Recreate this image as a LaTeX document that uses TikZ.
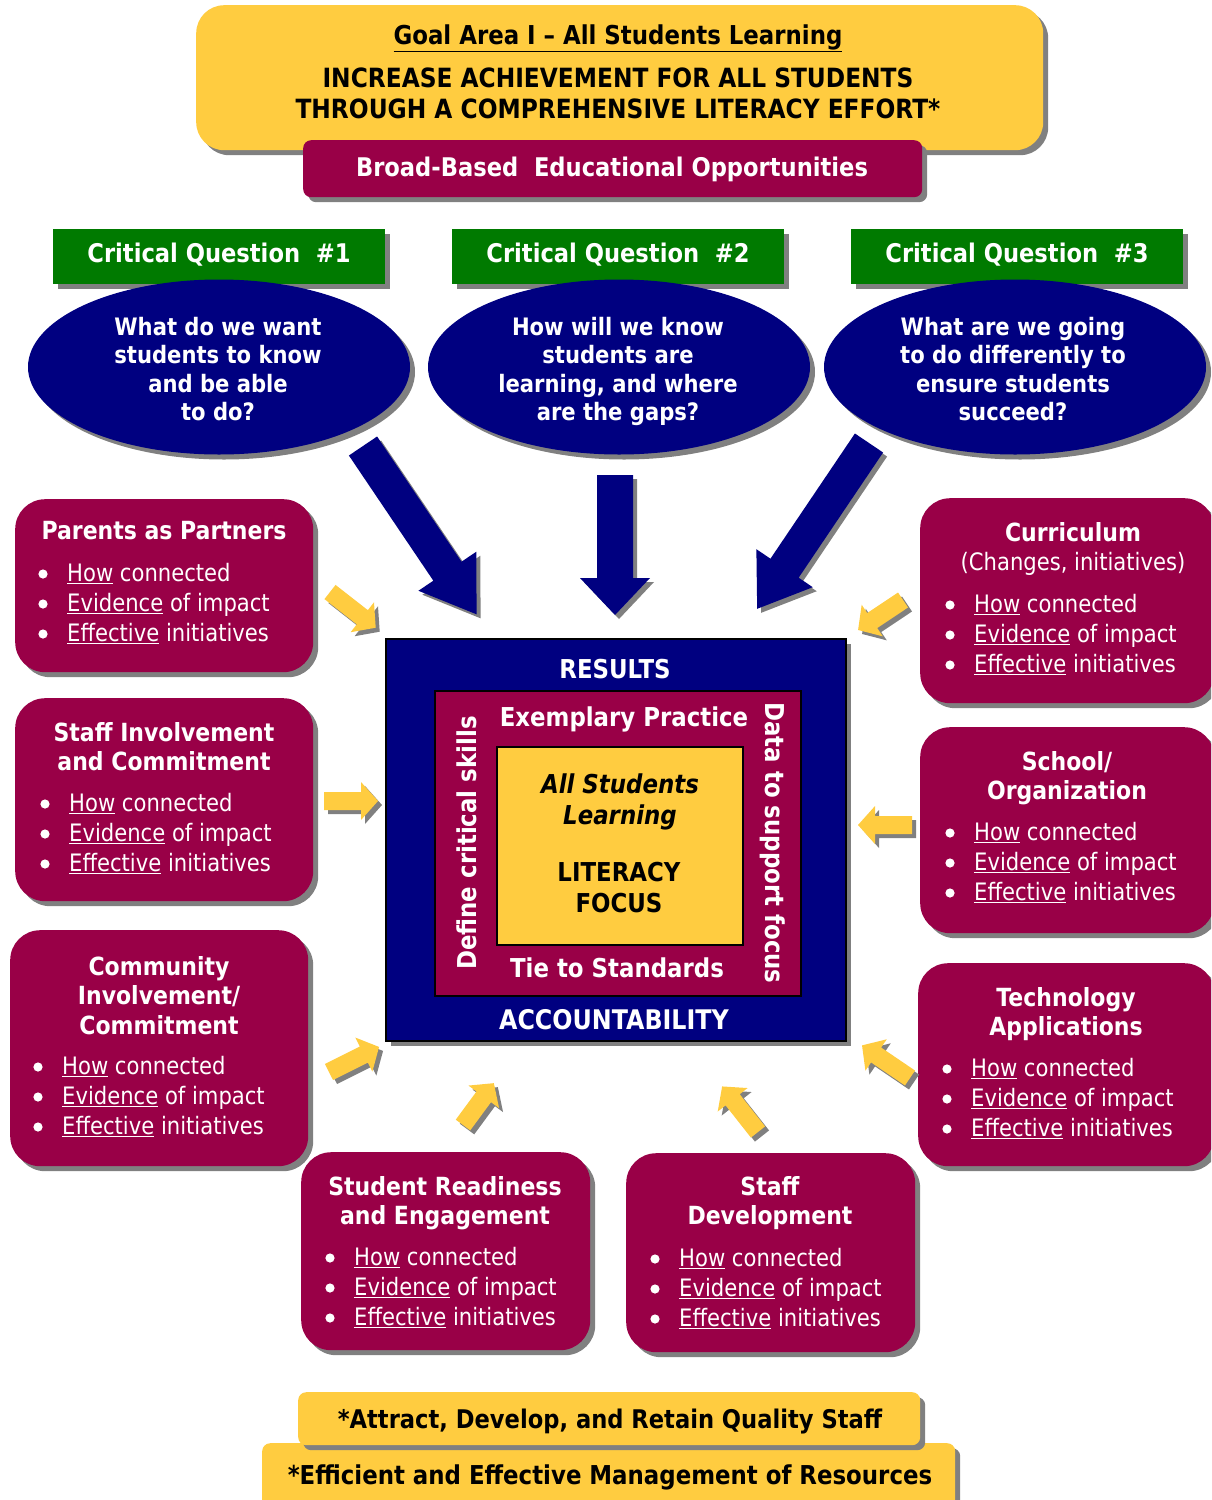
\documentclass[tikz,border=0pt]{standalone}
\usepackage{fontspec}
\setmainfont{DejaVu Sans}[FakeStretch=0.88]
\usetikzlibrary{shadows,shapes.geometric}
\definecolor{maroon}{RGB}{153,0,71}
\definecolor{navy}{RGB}{0,0,128}
\definecolor{gold}{RGB}{255,204,64}
\definecolor{qgreen}{RGB}{0,122,0}
\definecolor{shad}{RGB}{128,128,128}
\newcommand\bullist{\underline{How} connected\\\underline{Evidence} of impact\\\underline{Effective} initiatives}
% #1 name, #2 bullet x, #3 text x, #4 first baseline y
\newcommand\blist[4]{%
  \fill[white] (#2,#4-8) circle (4.6) (#2,#4+22) circle (4.6) (#2,#4+52) circle (4.6);
  \node[body] (#1) at (#3,#4-18.8) {\bullist};}
\newcommand\blkarrow[8]{%
  \fill[shad,shift={(#1+4,#2+4)},rotate=#3] (0,-#5) -- ({#4-#7},-#5) -- ({#4-#7},-#6) -- (#4,0) -- ({#4-#7},#6) -- ({#4-#7},#5) -- (0,#5) -- cycle;
  \fill[#8,shift={(#1,#2)},rotate=#3] (0,-#5) -- ({#4-#7},-#5) -- ({#4-#7},-#6) -- (#4,0) -- ({#4-#7},#6) -- ({#4-#7},#5) -- (0,#5) -- cycle;}
\newcommand\yarrow[4]{\blkarrow{#1}{#2}{#3}{#4}{9}{19}{17}{gold}}
\begin{document}
\begin{tikzpicture}[x=1pt,y=-1pt,
 shadowed/.style={drop shadow={shadow xshift=5pt,shadow yshift=-5pt,fill=shad,opacity=1}},
 sidebox/.style={fill=maroon,rounded corners=30pt,shadowed,inner sep=0,anchor=north west},
 greenbox/.style={fill=qgreen,shadowed,inner sep=0,anchor=north west,minimum width=332,minimum height=55},
 qell/.style={ellipse,fill=navy,shadowed,minimum width=382,minimum height=175,inner sep=0},
 wt/.style={text=white,inner sep=0,align=center,anchor=north},
 bt/.style={text=black,inner sep=0,align=center,anchor=north},
 ttl/.style={font=\fontsize{25}{29.7}\selectfont\bfseries},
 big/.style={font=\fontsize{26}{31}\selectfont\bfseries},
 body/.style={text=white,inner sep=0,anchor=north west,align=left,font=\fontsize{24}{30}\selectfont},
]
\useasboundingbox (0,0) rectangle (1211,1500);
\clip (0,0) rectangle (1211,1500);
% ---------- top goal box
\node[fill=gold,rounded corners=28pt,shadowed,anchor=north west,minimum width=847,minimum height=145,inner sep=0] (goal) at (196,5) {};
\node[bt,font=\fontsize{26}{31}\selectfont\bfseries] (goalt) at (618,24.5) {\underline{Goal Area I – All Students Learning}};
\node[bt,font=\fontsize{26.5}{31}\selectfont\bfseries] (goaltxt) at (618,67.3) {INCREASE ACHIEVEMENT FOR ALL STUDENTS\\THROUGH A COMPREHENSIVE LITERACY EFFORT*};
\node[fill=maroon,rounded corners=8pt,shadowed,anchor=north west,minimum width=619,minimum height=57,inner sep=0] (bb) at (303,140) {};
\node[wt,font=\fontsize{25.7}{31}\selectfont\bfseries] (bbt) at (612,156.6) {Broad-Based\ \ Educational Opportunities};
% ---------- critical questions
\node[greenbox] (g1) at (53,229) {};
\node[greenbox] (g2) at (452,229) {};
\node[greenbox] (g3) at (851,229) {};
\node[wt,font=\fontsize{25.7}{31}\selectfont\bfseries] (g1t) at (219,242.6) {Critical Question\ \ \#1};
\node[wt,font=\fontsize{25.7}{31}\selectfont\bfseries] (g2t) at (618,242.6) {Critical Question\ \ \#2};
\node[wt,font=\fontsize{25.7}{31}\selectfont\bfseries] (g3t) at (1017,242.6) {Critical Question\ \ \#3};
\node[qell] (e1) at (219,367) {};
\node[qell] (e2) at (619,367) {};
\node[qell] (e3) at (1015,367) {};
\node[wt,font=\fontsize{24}{28.5}\selectfont\bfseries] (e1t) at (218,317) {What do we want\\students to know\\and be able\\to do?};
\node[wt,font=\fontsize{24}{28.5}\selectfont\bfseries] (e2t) at (618,317) {How will we know\\students are\\learning, and where\\are the gaps?};
\node[wt,font=\fontsize{24}{28.5}\selectfont\bfseries] (e3t) at (1013,317) {What are we going\\to do differently to\\ensure students\\succeed?};
% ---------- big navy arrows
\blkarrow{363}{446}{-56}{203}{17}{35}{52}{navy}
\blkarrow{615}{475}{-90}{140}{18}{35}{37}{navy}
\blkarrow{869}{443}{-124}{200}{17}{34}{49}{navy}
% ---------- central box
\node[fill=navy,draw=black,line width=1.5pt,shadowed,anchor=north west,minimum width=460,minimum height=402,inner sep=0] (res) at (385,638) {};
\node[fill=maroon,draw=black,line width=1.5pt,anchor=north west,minimum width=366,minimum height=305,inner sep=0] (ex) at (434,690) {};
\node[fill=gold,draw=black,line width=1.5pt,anchor=north west,minimum width=246,minimum height=198,inner sep=0] (lit) at (496,746) {};
\node[wt,big] (rest) at (615,658.5) {RESULTS};
\node[wt,big] (ext) at (624,706.5) {Exemplary Practice};
\node[bt,font=\fontsize{26}{31}\selectfont\bfseries\itshape] (ast) at (620,773.5) {All Students\\Learning};
\node[bt,big] (litt) at (619,861.5) {LITERACY\\FOCUS};
\node[wt,big] (tie) at (617,957.5) {Tie to Standards};
\node[wt,font=\fontsize{27}{31}\selectfont\bfseries] (acc) at (614,1009.2) {ACCOUNTABILITY};
\node[text=white,inner sep=0,big,rotate=90] (def) at (467,843) {Define critical skills};
\node[text=white,inner sep=0,big,rotate=-90] (dat) at (773,843) {Data to support focus};
% ---------- side boxes
\node[sidebox,minimum width=298,minimum height=173] (b1) at (15,499) {};
\node[wt,ttl] (b1t) at (164,520.9) {Parents as Partners};
\blist{b1l}{43}{67}{582}
\node[sidebox,minimum width=298,minimum height=203] (b2) at (15,698) {};
\node[wt,ttl] (b2t) at (164,721.9) {Staff Involvement\\and Commitment};
\blist{b2l}{45}{69}{812}
\node[sidebox,minimum width=298,minimum height=236] (b3) at (10,930) {};
\node[wt,ttl] (b3t) at (159,955.9) {Community\\Involvement/\\Commitment};
\blist{b3l}{38}{62}{1075}
\node[sidebox,minimum width=289,minimum height=198] (b4) at (301,1152) {};
\node[wt,ttl] (b4t) at (445,1175.9) {Student Readiness\\and Engagement};
\blist{b4l}{330}{354}{1266}
\node[sidebox,minimum width=289,minimum height=199] (b5) at (626,1153) {};
\node[wt,ttl] (b5t) at (770,1175.9) {Staff\\Development};
\blist{b5l}{655}{679}{1267}
\node[sidebox,minimum width=296,minimum height=203] (b6) at (918,963) {};
\node[wt,ttl] (b6t) at (1066,986.9) {Technology\\Applications};
\blist{b6l}{947}{971}{1077}
\node[sidebox,minimum width=294,minimum height=206] (b7) at (920,727) {};
\node[wt,ttl] (b7t) at (1067,750.9) {School/\\Organization};
\blist{b7l}{950}{974}{841}
\node[sidebox,minimum width=294,minimum height=205] (b8) at (920,498) {};
\node[wt,ttl] (b8t) at (1073,521.9) {Curriculum\\\mdseries\fontsize{24}{29.7}\selectfont (Changes, initiatives)};
\blist{b8l}{950}{974}{613}
% ---------- small yellow arrows
\yarrow{330}{592}{-38}{58}
\yarrow{324}{801}{0}{54}
\yarrow{329}{1072}{26.6}{56}
\yarrow{463}{1125}{53.6}{52}
\yarrow{758}{1132}{128.2}{58}
\yarrow{910}{1078}{145.8}{58}
\yarrow{912}{825}{180}{54}
\yarrow{903}{600}{-146.3}{54}
% ---------- bottom boxes
\node[fill=gold,rounded corners=8pt,shadowed,anchor=north west,minimum width=693,minimum height=65,inner sep=0] (eff) at (262,1443) {};
\node[fill=gold,rounded corners=8pt,shadowed,anchor=north west,minimum width=622,minimum height=53,inner sep=0] (att) at (298,1392) {};
\node[bt,font=\fontsize{25.7}{31}\selectfont\bfseries] (attt) at (610,1408.6) {*Attract, Develop, and Retain Quality Staff};
\node[bt,font=\fontsize{26}{31}\selectfont\bfseries] (efft) at (610,1464.5) {*Efficient and Effective Management of Resources};
\end{tikzpicture}
\end{document}
